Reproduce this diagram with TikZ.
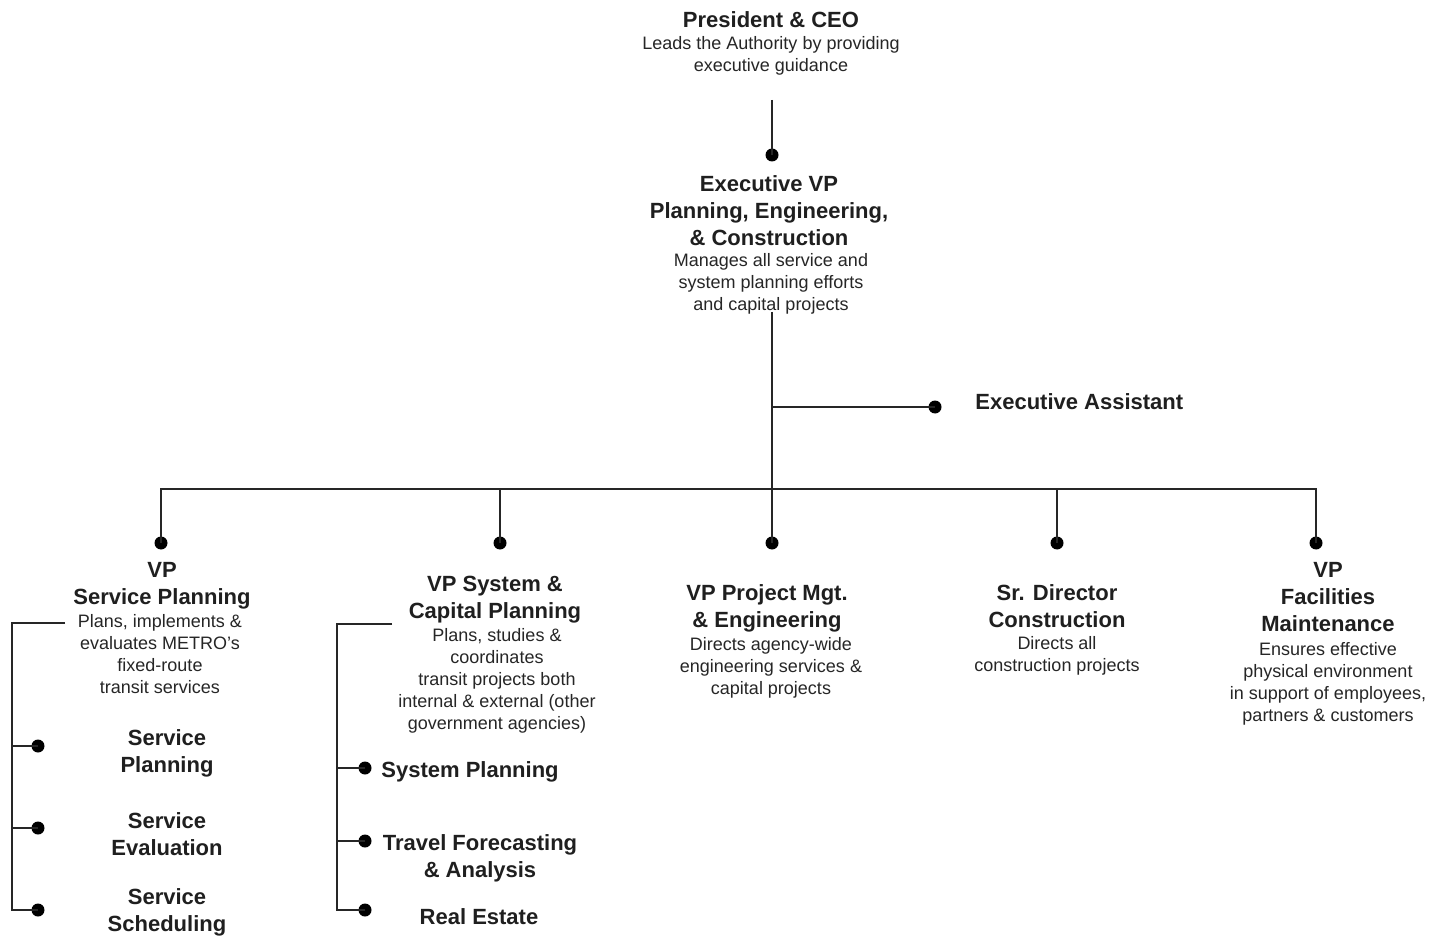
\documentclass[tikz,border=0pt]{standalone}
\usepackage{fontspec}
\setmainfont{Liberation Sans}
\begin{document}
\begin{tikzpicture}[x=0.5pt,y=-0.5pt,
  ink/.style={draw=black!85, line width=1pt},
  ttl/.style={font=\fontsize{11}{13.5}\selectfont\bfseries, align=center, inner sep=0pt, text=black!88},
  dsc/.style={font=\fontsize{9}{11}\selectfont, align=center, inner sep=0pt, text=black!85},
  dot/.style={circle, fill=black, inner sep=0pt, minimum size=6.5pt}]
\useasboundingbox[fill=white] (0,0) rectangle (1446,936);

% President & CEO
\node[ttl, anchor=north] (ceo) at (771,11) {President \& CEO};
\node[dsc, anchor=north] (ceoD) at (771,36.5) {Leads the Authority by providing\\executive guidance};
\coordinate (ceoLine) at (772,100);
\node[dot] (d0) at (772,155) {};
\draw[ink] (ceoLine) -- (d0.center);

% Executive VP
\node[ttl, anchor=north] (evp) at (769,175) {Executive VP\\Planning, Engineering,\\\& Construction};
\node[dsc, anchor=north] (evpD) at (771,253.5) {Manages all service and\\system planning efforts\\and capital projects};
\coordinate (evpLine) at (772,312);
\coordinate (j1) at (772,407);
\coordinate (j2) at (772,489);

% Executive Assistant
\node[dot] (dEA) at (935,407) {};
\node[ttl, anchor=base west] (ea) at (975,409) {Executive Assistant};
\draw[ink] (j1) -- (dEA.center);

% second level dots
\node[dot] (d1) at (161,543) {};
\node[dot] (d2) at (500,543) {};
\node[dot] (d3) at (772,543) {};
\node[dot] (d4) at (1057,543) {};
\node[dot] (d5) at (1316,543) {};
\draw[ink] (evpLine) -- (d3.center);
\draw[ink] (d1.center) -- (d1.center |- j2) -- (d5.center |- j2) -- (d5.center);
\draw[ink] (d2.center) -- (d2.center |- j2);
\draw[ink] (d4.center) -- (d4.center |- j2);

% VP Service Planning
\node[ttl, anchor=north] (vp1) at (162,562) {VP\\Service Planning};
\node[dsc, anchor=north] (vp1D) at (160,614.5) {Plans, implements \&\\evaluates METRO’s\\fixed-route\\transit services};
\coordinate (b1top) at (65,623);
\coordinate (b1c) at (12,623);
\node[dot] (s1) at (38,746) {};
\node[dot] (s2) at (38,828) {};
\node[dot] (s3) at (38,910) {};
\draw[ink] (b1top) -- (b1c) |- (s3.center);
\draw[ink] (b1c |- s1) -- (s1.center);
\draw[ink] (b1c |- s2) -- (s2.center);
\node[ttl, anchor=north] (sp1) at (167,729) {Service\\Planning};
\node[ttl, anchor=north] (sp2) at (167,812) {Service\\Evaluation};
\node[ttl, anchor=north] (sp3) at (167,888) {Service\\Scheduling};

% VP System & Capital Planning
\node[ttl, anchor=north] (vp2) at (495,576) {VP System \&\\Capital Planning};
\node[dsc, anchor=north] (vp2D) at (497,628.5) {Plans, studies \&\\coordinates\\transit projects both\\internal \& external (other\\government agencies)};
\coordinate (b2top) at (392,624);
\coordinate (b2c) at (337,624);
\node[dot] (t1) at (365,768) {};
\node[dot] (t2) at (365,841) {};
\node[dot] (t3) at (365,910) {};
\draw[ink] (b2top) -- (b2c) |- (t3.center);
\draw[ink] (b2c |- t1) -- (t1.center);
\draw[ink] (b2c |- t2) -- (t2.center);
\node[ttl, anchor=base west] (sc1) at (381,777) {System Planning};
\node[ttl, anchor=north] (sc2) at (480,834) {Travel Forecasting\\\& Analysis};
\node[ttl, anchor=base] (sc3) at (479,924) {Real Estate};

% VP Project Mgt. & Engineering
\node[ttl, anchor=north] (vp3) at (767,584) {VP Project Mgt.\\\& Engineering};
\node[dsc, anchor=north] (vp3D) at (771,637.5) {Directs agency-wide\\engineering services \&\\capital projects};

% Sr. Director Construction
\node[ttl, anchor=north] (vp4) at (1057,584) {Sr. Director\\Construction};
\node[dsc, anchor=north] (vp4D) at (1057,636.5) {Directs all\\construction projects};

% VP Facilities Maintenance
\node[ttl, anchor=north] (vp5) at (1328,562) {VP\\Facilities\\Maintenance};
\node[dsc, anchor=north] (vp5D) at (1328,642.5) {Ensures effective\\physical environment\\in support of employees,\\partners \& customers};
\end{tikzpicture}
\end{document}
